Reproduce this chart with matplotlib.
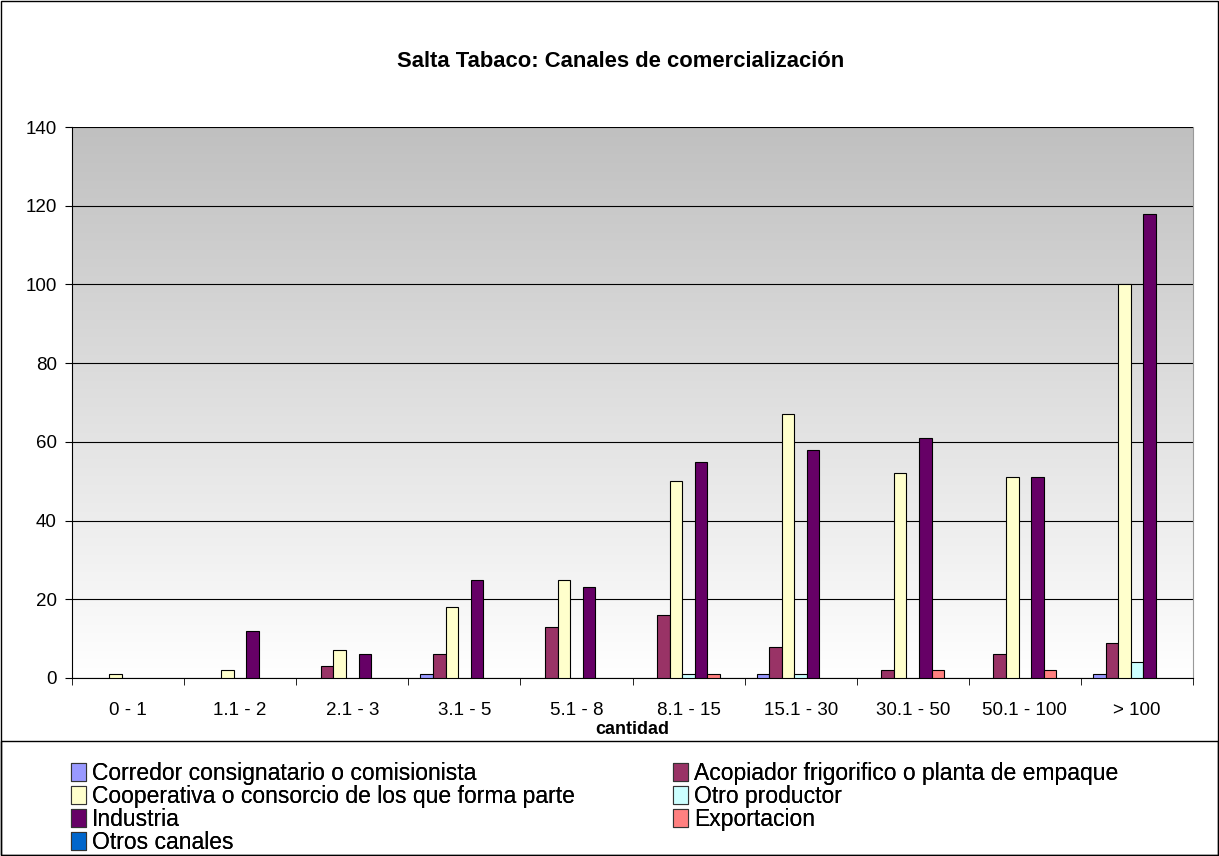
import numpy as np
import matplotlib
matplotlib.use("Agg")
import matplotlib.pyplot as plt
from matplotlib.patches import Rectangle

plt.rcParams['font.family'] = ['Liberation Sans', 'DejaVu Sans']

categorias = ["0 - 1", "1.1 - 2", "2.1 - 3", "3.1 - 5", "5.1 - 8", "8.1 - 15",
              "15.1 - 30", "30.1 - 50", "50.1 - 100", "> 100"]
series = ["Corredor consignatario o comisionista",
          "Acopiador frigorifico o planta de empaque",
          "Cooperativa o consorcio de los que forma parte",
          "Otro productor",
          "Industria",
          "Exportacion",
          "Otros canales"]
corredor = [0, 0, 0, 1, 0, 0, 1, 0, 0, 1]
acopiador = [0, 0, 3, 6, 13, 16, 8, 2, 6, 9]
cooperativa = [1, 2, 7, 18, 25, 50, 67, 52, 51, 100]
otro_productor = [0, 0, 0, 0, 0, 1, 1, 0, 0, 4]
industria = [0, 12, 6, 25, 23, 55, 58, 61, 51, 118]
exportacion = [0, 0, 0, 0, 0, 1, 0, 2, 2, 0]
otros_canales = [0, 0, 0, 0, 0, 0, 0, 0, 0, 0]
valores = [corredor, acopiador, cooperativa, otro_productor, industria, exportacion, otros_canales]
colores = ["#9999FF", "#993366", "#FFFFCC", "#CCFFFF", "#660066", "#FF8080", "#0066CC"]

fig = plt.figure(figsize=(12.19, 8.56), dpi=100)
ax = fig.add_axes([72/1219, 1-678/856, (1193-72)/1219, (678-127)/856])

# fondo degradado gris -> blanco
grad = np.linspace(0, 1, 256).reshape(-1, 1)
cmap = matplotlib.colors.LinearSegmentedColormap.from_list("g", ["#ffffff", "#c0c0c0"])
ax.imshow(grad, aspect='auto', cmap=cmap, extent=[0, 1, 0, 1], origin='lower',
          transform=ax.transAxes, zorder=0)

x = np.arange(len(categorias))
w = 0.112
handles = []
for i, (vals, col) in enumerate(zip(valores, colores)):
    lw = [0.8 if v > 0 else 0 for v in vals]
    ax.bar(x + (i - 3) * w, vals, w, color=col, edgecolor='black', linewidth=lw, zorder=3)
    handles.append(Rectangle((0, 0), 1, 1, facecolor=col, edgecolor='#333333', linewidth=0.8))

ax.set_xlim(-0.5, len(categorias) - 0.5)
ax.set_ylim(0, 140)
ax.set_yticks(range(0, 141, 20))
ax.yaxis.grid(True, color='black', linewidth=0.8, zorder=1)
ax.set_axisbelow(True)
ax.set_xticks(x)
ax.set_xticklabels(categorias, fontsize=13.5)
ax.tick_params(axis='x', length=0, pad=17)
ax.set_xticks(np.arange(-0.5, len(categorias), 1), minor=True)
ax.tick_params(axis='x', which='minor', length=5, direction='out')
ax.tick_params(axis='y', labelsize=13.5, length=5, direction='out', pad=6)
ax.set_xlabel("cantidad", fontsize=13, fontweight='bold', labelpad=2)
ax.spines['top'].set_visible(False)
ax.spines['right'].set_color('#999999')
ax.spines['left'].set_color('black')
ax.spines['bottom'].set_color('black')

fig.text(621/1219, 1 - 67/856, "Salta Tabaco: Canales de comercialización", ha='center',
         va='baseline', fontsize=15.8, fontweight='bold')

# marco exterior y marco de la leyenda
fig.patches.append(Rectangle((0.001, 0.001), 0.998, 0.998, transform=fig.transFigure,
                             fill=False, edgecolor='black', linewidth=1))
fig.patches.append(Rectangle((0.001, 0.001), 0.998, 1 - 742/856, transform=fig.transFigure,
                             fill=False, edgecolor='black', linewidth=1))

for cols, x0 in (([0, 2, 4, 6], 71), ([1, 3, 5], 673)):
    leg = fig.legend([handles[i] for i in cols], [series[i] for i in cols],
                     loc='upper left', bbox_to_anchor=(x0/1219, 1 - 762/856), frameon=False,
                     fontsize=16.5, handlelength=0.65, handleheight=0.8, handletextpad=0.25,
                     labelspacing=0.0, borderaxespad=0, borderpad=0)
    fig.add_artist(leg)

fig.savefig("out.png", dpi=100)
